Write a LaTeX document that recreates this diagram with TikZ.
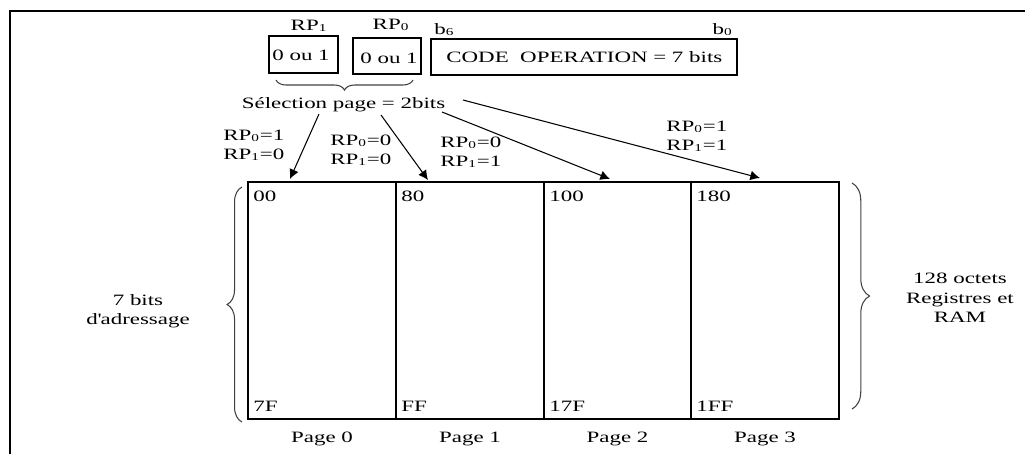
\documentclass[tikz,border=0pt]{standalone}
\usepackage{fontspec}
\setmainfont[FakeStretch=1.45]{Liberation Serif}
\usetikzlibrary{arrows.meta}
\usetikzlibrary{decorations.pathreplacing}

\begin{document}
\begin{tikzpicture}[%
	x=0.02cm, y=-0.02cm,
	every node/.style={
		font=\fontsize{9}{11}\selectfont,
		inner sep=0pt,
	},
	box/.style={draw, line width=0.7pt},
	fleche/.style={-{Latex[length=5.5pt,width=5.5pt]}, line width=0.6pt},
	accolade/.style={decorate, decoration={brace, amplitude=#1}, line width=0.6pt, black!75},
	]
	\useasboundingbox (0,0) rectangle (1025,454);

	% draw frame
	\draw[line width=1.7pt] (10,454) -- (10,11) -- (1025,11);

	% instruction fields
	\node[anchor=base] (rp1) at (309,30) {RP\textsubscript{1}};
	\node[anchor=base] (rp0) at (391,29) {RP\textsubscript{0}};
	\node[anchor=base west] (b6) at (434,34) {b\textsubscript{6}};
	\node[anchor=base east] (b0) at (733,34) {b\textsubscript{0}};
	\draw[box] (269,36) rectangle (338,73);
	\draw[box] (353,38) rectangle (421,74);
	\draw[box] (431,39) rectangle (737,75);
	\node[anchor=base west] (rp1val) at (272,60) {0 ou 1};
	\node[anchor=base west] (rp0val) at (360,63) {0 ou 1};
	\node[anchor=base west] (code) at (446,62) {CODE\ \ OPERATION = 7 bits};

	% page selection
	\draw[accolade=5.7pt] (413,80) -- (276,80);
	\node[anchor=base] (sel) at (343.5,108) {Sélection page = 2bits};

	% arrows to pages
	\coordinate (s0) at (319,114); \coordinate (t0) at (290,179);
	\coordinate (s1) at (381,115); \coordinate (t1) at (428,180);
	\coordinate (s2) at (442,112); \coordinate (t2) at (610,179);
	\coordinate (s3) at (463,100); \coordinate (t3) at (760,178);
	\foreach \i in {0,1,2,3}{
		\draw[fleche] (s\i) -- (t\i);
	}

	% RP conditions
	\foreach \n/\x/\y/\va/\vb in {c0/223/140/1/0, c1/330/145/0/0, c2/440/147/0/1, c3/666/131/1/1}{
		\node[anchor=base west] (\n a) at (\x,\y) {RP\textsubscript{0}=\va};
		\node[anchor=base west] (\n b) at (\x,\y+19) {RP\textsubscript{1}=\vb};
	}

	% memory pages
	\foreach \i/\xa/\xb/\adrA/\adrB in {0/248/396/00/7F, 1/396/544/80/FF, 2/544/691/100/17F, 3/691/839/180/1FF}{
		\draw[box] (\xa,182) rectangle (\xb,419);
		\node[anchor=base west] (deb\i) at (\xa+5,201) {\adrA};
		\node[anchor=base west] (fin\i) at (\xa+5,411) {\adrB};
		\node[anchor=base] (page\i) at ({(\xa+\xb)/2},442) {Page \i};
	}

	% side braces
	\draw[accolade=8.5pt] (242,422) -- (242,187);
	\node[align=center] (adr) at (138,311) {7 bits\\d\textquotesingle adressage};
	\draw[accolade=10pt] (852,183) -- (852,409);
	\node[align=center] (oct) at (960,298) {128 octets\\Registres et\\RAM};
\end{tikzpicture}
\end{document}
